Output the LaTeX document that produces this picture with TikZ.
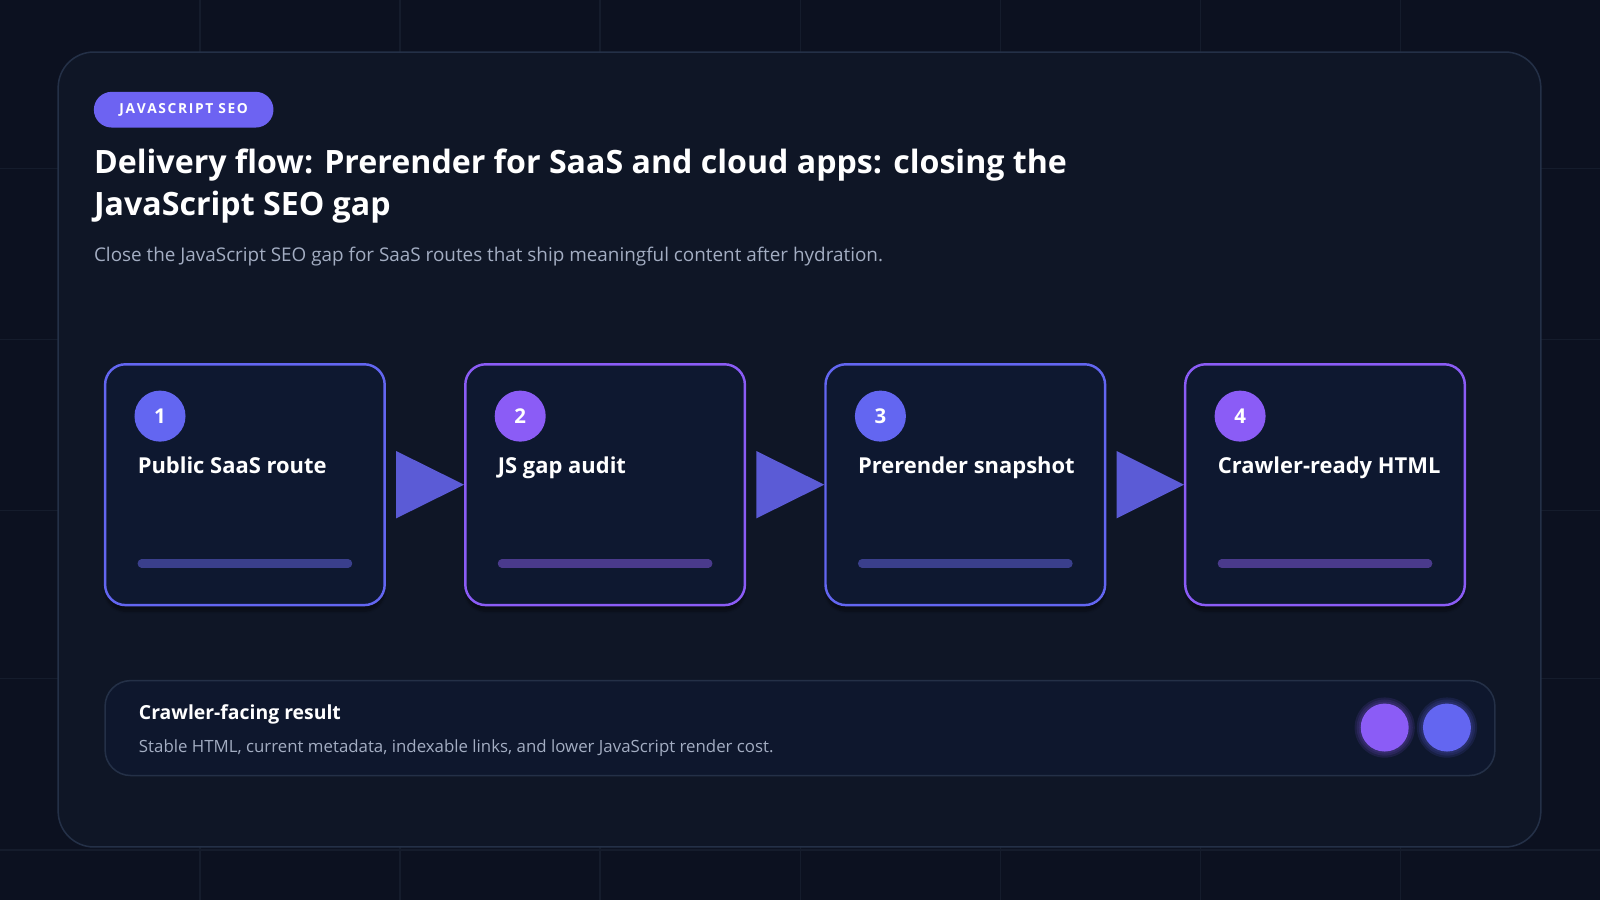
\documentclass[tikz,border=0pt]{standalone}
\usepackage{fontspec}
\setmainfont{Open Sans}
\usetikzlibrary{shadows.blur}
\definecolor{bg}{HTML}{0C1120}
\definecolor{panel}{HTML}{0F1626}
\definecolor{panelborder}{HTML}{243047}
\definecolor{cardfill}{HTML}{0E1830}
\definecolor{cblue}{HTML}{6366F1}
\definecolor{cpurple}{HTML}{8B5CF6}
\definecolor{arrowc}{HTML}{5B5BD6}
\definecolor{subt}{HTML}{A3ADC2}
\definecolor{barblue}{HTML}{3A3F8C}
\definecolor{barpurple}{HTML}{4A3A8C}
\definecolor{gridc}{HTML}{151C2C}
\tikzset{
 card/.style={draw=#1, line width=2.4pt, fill=cardfill, rounded corners=20pt, minimum width=274pt, minimum height=236pt, blur shadow={shadow blur steps=8, shadow xshift=0pt, shadow yshift=-6pt, shadow opacity=40}},
 num/.style={circle, fill=#1, minimum size=50pt, inner sep=0pt, text=white, font=\bfseries\fontsize{20}{20}\selectfont},
 lbl/.style={anchor=base west, text=white, font=\bfseries\fontsize{21.5}{26}\selectfont, inner sep=0pt},
 bar/.style={line width=8pt, line cap=round, draw=#1},
 arr/.style={fill=arrowc},
 dot/.style={circle, fill=#1, minimum size=47pt, inner sep=0pt},
 ttl/.style={anchor=base west, inner sep=0pt, text=white, font=\bfseries\fontsize{31.5}{40}\selectfont},
}
\begin{document}
\begin{tikzpicture}[x=1pt,y=-1pt]
\useasboundingbox (0,0) rectangle (1568,882);
\fill[bg] (0,0) rectangle (1568,882);
\foreach \x in {196,392,588,784,980,1176,1372} \draw[gridc,line width=1pt] (\x,0) -- (\x,882);
\foreach \y in {165,333,500,665,833} \draw[gridc,line width=1pt] (0,\y) -- (1568,\y);
\node[draw=panelborder, line width=1.5pt, fill=panel, rounded corners=35pt, minimum width=1453pt, minimum height=779pt, inner sep=0pt] (panel) at (783.5,440.5) {};
\node[fill=cblue!75!cpurple, rounded corners=17.5pt, minimum width=176pt, minimum height=35pt, text=white, font=\bfseries\fontsize{13.5}{14}\selectfont] (badge) at (180,107.5) {J\kern1.6pt A\kern1.6pt V\kern1.6pt A\kern1.6pt S\kern1.6pt C\kern1.6pt R\kern1.6pt I\kern1.6pt P\kern1.6pt T\kern5pt S\kern1.6pt E\kern1.6pt O};
\node[ttl] (title1) at (92,170) {Delivery flow: Prerender for SaaS and cloud apps: closing the};
\node[ttl] (title2) at (92,211) {JavaScript SEO gap};
\node[anchor=base west, inner sep=0pt, text=subt, font=\fontsize{18.5}{22}\selectfont] (sub) at (92,256) {Close the JavaScript SEO gap for SaaS routes that ship meaningful content after hydration.};
\foreach \i/\cx/\c/\b/\t in {1/240/cblue/barblue/Public SaaS route, 2/593/cpurple/barpurple/JS gap audit, 3/946/cblue/barblue/Prerender snapshot, 4/1298.5/cpurple/barpurple/Crawler-ready HTML}{
  \node[card=\c] (card\i) at (\cx,475) {};
  \node[num=\c] (n\i) at ([xshift=55pt,yshift=-52pt]card\i.north west) {\i};
  \node[lbl] (l\i) at ([xshift=33pt,yshift=-108pt]card\i.north west) {\t};
  \draw[bar=\b] ([xshift=37pt,yshift=42pt]card\i.south west) -- ([xshift=-37pt,yshift=42pt]card\i.south east);
}
\foreach \a/\b in {1/2,2/3,3/4}{
  \fill[arr] ([xshift=10pt,yshift=-33pt]card\a.east) -- ([xshift=10pt,yshift=33pt]card\a.east) -- (card\b.west) -- cycle;
}
\node[draw=panelborder, line width=1.5pt, fill=cardfill!70!panel, rounded corners=25pt, minimum width=1362pt, minimum height=93pt, inner sep=0pt] (res) at (784,713.5) {};
\node[anchor=base west, inner sep=0pt, text=white, font=\bfseries\fontsize{19}{22}\selectfont] (rt) at (136,705) {Crawler-facing result};
\node[anchor=base west, inner sep=0pt, text=subt, font=\fontsize{16.5}{20}\selectfont] (rd) at (136,737) {Stable HTML, current metadata, indexable links, and lower JavaScript render cost.};
\foreach \r in {6,4,2} {
  \fill[cpurple, opacity=0.12] (1357,713) circle (23.5+\r);
  \fill[cblue, opacity=0.12] (1418,713) circle (23.5+\r);
}
\node[dot=cpurple] (d1) at (1357,713) {};
\node[dot=cblue] (d2) at (1418,713) {};
\end{tikzpicture}
\end{document}
